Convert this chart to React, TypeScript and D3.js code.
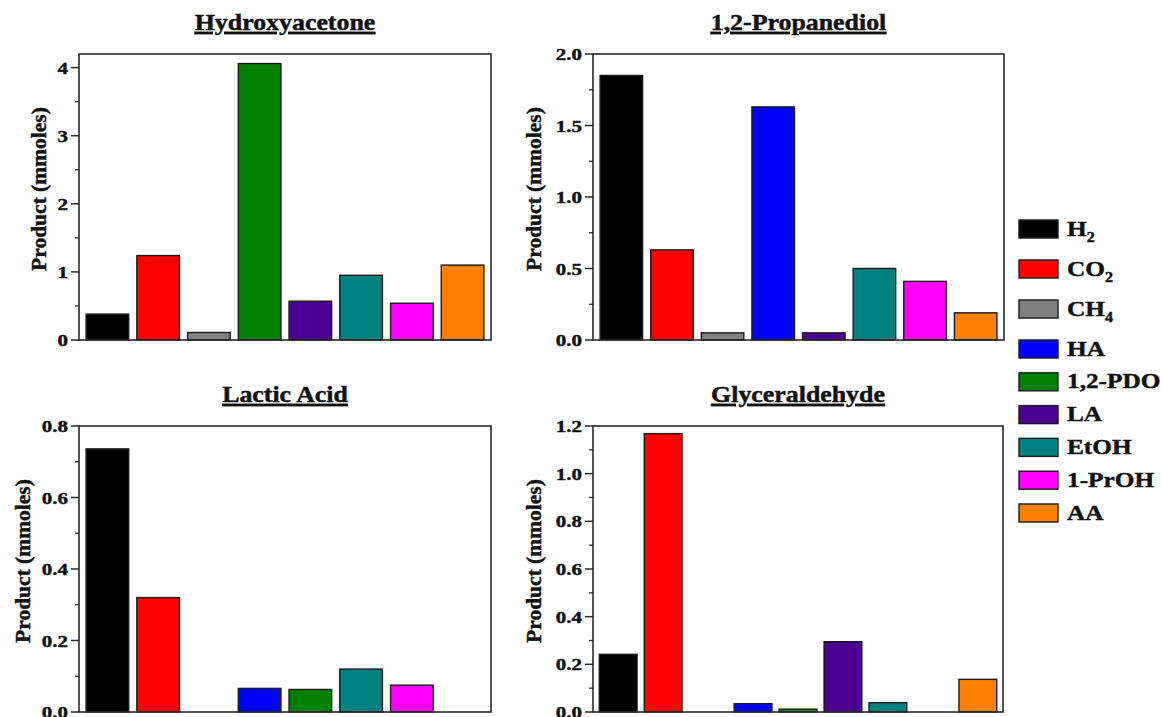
import React from "react";
import * as d3 from "d3";

// ---------- data ----------
const categories = ["H2", "CO2", "CH4", "HA", "1,2-PDO", "LA", "EtOH", "1-PrOH", "AA"];
const categoryColors = ["#000000", "#ff0000", "#808080", "#0000ff", "#008000", "#4b0090", "#008080", "#ff00ff", "#ff8000"];

const hydroxyacetoneCats = ["H2", "CO2", "CH4", "1,2-PDO", "LA", "EtOH", "1-PrOH", "AA"];
const hydroxyacetoneValues = [0.38, 1.24, 0.11, 4.06, 0.57, 0.95, 0.54, 1.10];

const propanediolCats = ["H2", "CO2", "CH4", "HA", "LA", "EtOH", "1-PrOH", "AA"];
const propanediolValues = [1.85, 0.63, 0.05, 1.63, 0.05, 0.50, 0.41, 0.19];

const lacticCats = ["H2", "CO2", "CH4", "HA", "1,2-PDO", "EtOH", "1-PrOH", "AA"];
const lacticValues = [0.736, 0.32, 0, 0.066, 0.063, 0.12, 0.075, 0];

const glyceraldehydeCats = categories;
const glyceraldehydeValues = [0.242, 1.168, 0, 0.035, 0.012, 0.295, 0.039, 0, 0.137];

const panelTitles = ["Hydroxyacetone", "1,2-Propanediol", "Lactic Acid", "Glyceraldehyde"];
const yMax = [4.2, 2.0, 0.8, 1.2];
const yMajorStep = [1, 0.5, 0.2, 0.2];
const yMinorStep = [0.5, 0.25, 0.1, 0.1];
const yFormat = ["d", ".1f", ".1f", ".1f"];
const yLabel = "Product (mmoles)";

// legend labels: [main, subscript]
const legendLabels: [string, string][] = [
  ["H", "2"], ["CO", "2"], ["CH", "4"], ["HA", ""], ["1,2-PDO", ""], ["LA", ""], ["EtOH", ""], ["1-PrOH", ""], ["AA", ""],
];

// ---------- layout ----------
const W = 1163, H = 717;
const FONT = "'Liberation Serif', 'Times New Roman', Times, serif";
const panelBoxes = [
  { x0: 79, x1: 491, y0: 54, y1: 340, labelX: 46 },
  { x0: 593, x1: 1004, y0: 54, y1: 340, labelX: 541 },
  { x0: 79, x1: 491, y0: 426, y1: 712, labelX: 30 },
  { x0: 593, x1: 1003, y0: 426, y1: 712, labelX: 541 },
];
const panelData = [
  { cats: hydroxyacetoneCats, values: hydroxyacetoneValues },
  { cats: propanediolCats, values: propanediolValues },
  { cats: lacticCats, values: lacticValues },
  { cats: glyceraldehydeCats, values: glyceraldehydeValues },
];
const colorScale = d3.scaleOrdinal<string, string>().domain(categories).range(categoryColors);

const AXIS = "#2a2a2a";
const TXT = "#111";
const TS = 0.45; // slight stroke to mimic heavier glyphs

function Panel({ idx }: { idx: number }) {
  const b = panelBoxes[idx];
  const { cats, values } = panelData[idx];
  const x = d3.scaleBand<string>().domain(cats).range([b.x0, b.x1]).paddingInner(0.16).paddingOuter(0.14);
  const y = d3.scaleLinear().domain([0, yMax[idx]]).range([b.y1, b.y0]);
  const eps = 1e-9;
  const majors = d3.range(0, yMax[idx] + eps, yMajorStep[idx]);
  const minors = d3.range(0, yMax[idx] + eps, yMinorStep[idx]).filter(
    (v) => !majors.some((m) => Math.abs(m - v) < 1e-6)
  );
  const fmt = d3.format(yFormat[idx]);
  const cx = (b.x0 + b.x1) / 2;
  const cy = (b.y0 + b.y1) / 2;
  return (
    <g>
      {/* title */}
      <g transform={`translate(${cx},${b.y0 - 24}) scale(1.15,1)`}>
        <text x={0} y={0} textAnchor="middle" fontFamily={FONT} fontWeight="bold" fontSize={22.5}
          textDecoration="underline" fill={TXT} stroke={TXT} strokeWidth={TS}>
          {panelTitles[idx]}
        </text>
      </g>
      {/* bars */}
      {cats.map((c, i) =>
        values[i] > 0 ? (
          <rect key={c} x={x(c)!} y={y(values[i])} width={x.bandwidth()} height={y(0) - y(values[i])}
            fill={colorScale(c)} stroke="#1a1a1a" strokeWidth={1.4} />
        ) : null
      )}
      {/* frame */}
      <rect x={b.x0} y={b.y0} width={b.x1 - b.x0} height={b.y1 - b.y0} fill="none" stroke={AXIS} strokeWidth={1.6} />
      {/* ticks */}
      {majors.map((v) => (
        <g key={"M" + v}>
          <line x1={b.x0 - 8} x2={b.x0} y1={y(v)} y2={y(v)} stroke={AXIS} strokeWidth={1.5} />
          <g transform={`translate(${b.x0 - 11},${y(v)}) scale(1.2,1)`}>
            <text x={0} y={0} dy="0.35em" textAnchor="end" fontFamily={FONT} fontWeight="bold" fontSize={17.5}
              fill={TXT} stroke={TXT} strokeWidth={TS}>
              {fmt(v)}
            </text>
          </g>
        </g>
      ))}
      {minors.map((v) => (
        <line key={"m" + v} x1={b.x0 - 4} x2={b.x0} y1={y(v)} y2={y(v)} stroke={AXIS} strokeWidth={1.3} />
      ))}
      {/* y label */}
      <text transform={`translate(${b.labelX},${cy - 8}) rotate(-90)`} textAnchor="middle" fontFamily={FONT}
        fontWeight="bold" fontSize={21.5} fill={TXT} stroke={TXT} strokeWidth={TS}>
        {yLabel}
      </text>
    </g>
  );
}

function Legend() {
  const sx = 1019, tx = 1067;
  const yOf = (i: number) => (i <= 3 ? 220 + 40 * i : 340 + (i - 3) * 32.8);
  return (
    <g>
      {legendLabels.map(([main, sub], i) => (
        <g key={i}>
          <rect x={sx} y={yOf(i)} width={39} height={18} fill={categoryColors[i]} stroke="#1a1a1a" strokeWidth={1.4} />
          <g transform={`translate(${tx},${yOf(i) + 15.5}) scale(1.15,1)`}>
            <text x={0} y={0} fontFamily={FONT} fontWeight="bold" fontSize={22} fill={TXT} stroke={TXT} strokeWidth={TS}>
              {main}
              {sub ? (
                <tspan fontSize={14} dy={6}>{sub}</tspan>
              ) : null}
            </text>
          </g>
        </g>
      ))}
    </g>
  );
}

export default function App() {
  return (
    <svg width={W} height={H} viewBox={`0 0 ${W} ${H}`}
      style={{ position: "absolute", left: 0, top: 0, background: "#ffffff" }}>
      <rect x={0} y={0} width={W} height={H} fill="#ffffff" />
      {panelTitles.map((_, i) => (
        <Panel key={i} idx={i} />
      ))}
      <Legend />
    </svg>
  );
}
